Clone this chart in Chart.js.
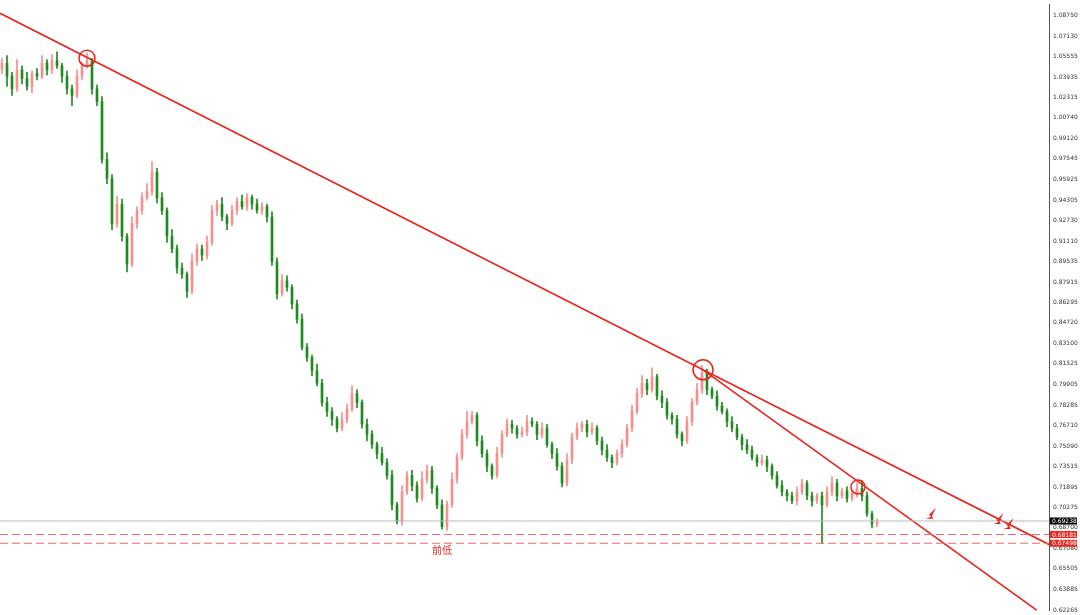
<!DOCTYPE html>
<html>
<head>
<meta charset="utf-8">
<script src="https://cdn.jsdelivr.net/npm/chart.js@4"></script>
<style>
  body { margin: 0; background: #fff; }
  #wrap { width: 1080px; height: 615px; }
</style>
</head>
<body>
<div id="wrap"><canvas id="myChart"></canvas></div>
<script>
// closing prices, one candle per bar (open = previous close)
const closes = [
  1.050, 1.040, 1.030, 1.045, 1.038, 1.032, 1.042, 1.040, 1.050, 1.045,
  1.052, 1.048, 1.040, 1.030, 1.025, 1.040, 1.048, 1.052, 1.030, 1.020,
  0.975, 0.960, 0.925, 0.940, 0.915, 0.893, 0.925, 0.935, 0.945, 0.950,
  0.965, 0.945, 0.935, 0.915, 0.905, 0.890, 0.885, 0.872, 0.895, 0.905,
  0.900, 0.910, 0.935, 0.940, 0.930, 0.925, 0.935, 0.942, 0.938, 0.945,
  0.940, 0.935, 0.938, 0.930, 0.895, 0.870, 0.880, 0.875, 0.862, 0.850,
  0.828, 0.820, 0.810, 0.800, 0.785, 0.778, 0.772, 0.765, 0.772, 0.780,
  0.792, 0.785, 0.768, 0.760, 0.752, 0.745, 0.738, 0.728, 0.705, 0.692,
  0.715, 0.728, 0.720, 0.710, 0.725, 0.732, 0.718, 0.705, 0.688, 0.705,
  0.725, 0.742, 0.760, 0.770, 0.775, 0.755, 0.745, 0.735, 0.728, 0.745,
  0.760, 0.768, 0.765, 0.760, 0.762, 0.770, 0.768, 0.760, 0.765, 0.752,
  0.745, 0.735, 0.722, 0.740, 0.758, 0.765, 0.768, 0.762, 0.765, 0.755,
  0.748, 0.742, 0.738, 0.745, 0.752, 0.765, 0.778, 0.792, 0.800, 0.795,
  0.805, 0.790, 0.785, 0.775, 0.772, 0.760, 0.755, 0.770, 0.785, 0.795,
  0.808, 0.795, 0.790, 0.782, 0.778, 0.770, 0.765, 0.758, 0.752, 0.748,
  0.742, 0.738, 0.740, 0.735, 0.728, 0.720, 0.715, 0.712, 0.708, 0.715,
  0.722, 0.712, 0.708, 0.712, 0.705, 0.715, 0.722, 0.712, 0.716, 0.710,
  0.714, 0.718, 0.712, 0.698, 0.690, 0.692
];
// wick lengths in thousandths
const wickHi = [
  4, 6, 3, 8, 3, 5, 2, 4, 6, 3, 5, 7, 2, 4, 3, 5, 3, 6, 2, 3,
  4, 5, 3, 6, 4, 2, 5, 3, 4, 6, 8, 3, 4, 2, 5, 3, 4, 2, 6, 4,
  3, 5, 4, 3, 5, 2, 4, 3, 5, 3, 2, 4, 3, 2, 4, 3, 5, 4, 2, 3,
  4, 3, 2, 5, 3, 4, 3, 2, 5, 4, 6, 3, 2, 4, 3, 2, 5, 3, 4, 2,
  5, 3, 4, 3, 6, 4, 3, 2, 4, 3, 5, 3, 4, 8, 3, 2, 4, 3, 2, 5,
  3, 4, 3, 2, 4, 5, 3, 2, 4, 3, 2, 4, 3, 5, 3, 4, 2, 3, 4, 2,
  3, 4, 2, 3, 4, 3, 5, 4, 6, 3, 7, 2, 4, 3, 2, 3, 2, 4, 3, 5,
  6, 3, 2, 4, 3, 2, 4, 3, 2, 4, 3, 2, 4, 3, 2, 3, 4, 2, 3, 4,
  3, 2, 3, 2, 3, 4, 5, 3, 2, 3, 2, 4, 6, 3, 2, 2
];
const wickLo = [
  3, 8, 5, 2, 4, 3, 5, 3, 2, 4, 3, 2, 5, 4, 8, 2, 3, 2, 4, 3,
  3, 4, 5, 3, 4, 6, 2, 4, 3, 2, 3, 4, 3, 5, 3, 4, 3, 5, 2, 3,
  4, 3, 2, 4, 3, 5, 2, 3, 2, 3, 4, 2, 3, 4, 3, 4, 2, 3, 4, 3,
  2, 3, 4, 2, 3, 4, 5, 3, 2, 3, 2, 4, 3, 5, 3, 4, 2, 3, 4, 2,
  3, 2, 4, 3, 2, 3, 4, 3, 2, 3, 2, 3, 2, 3, 2, 4, 3, 4, 3, 2,
  3, 2, 4, 3, 2, 3, 2, 4, 3, 2, 4, 3, 3, 2, 3, 2, 3, 4, 2, 3,
  4, 3, 4, 2, 3, 2, 3, 2, 3, 4, 2, 3, 4, 3, 4, 3, 4, 2, 3, 2,
  3, 4, 2, 3, 2, 4, 3, 2, 4, 3, 2, 3, 2, 4, 3, 2, 3, 4, 2, 3,
  2, 3, 4, 2, 30, 2, 3, 4, 2, 3, 2, 3, 4, 2, 3, 2
];
const priceTicks = [1.08750, 1.07130, 1.05555, 1.03935, 1.02315, 1.00740, 0.99120, 0.97545,
  0.95925, 0.94305, 0.92730, 0.91110, 0.89535, 0.87915, 0.86295, 0.84720, 0.83100, 0.81525,
  0.79905, 0.78285, 0.76710, 0.75090, 0.73515, 0.71895, 0.70275, 0.68700, 0.67080, 0.65505,
  0.63885, 0.62265];
const lastPrice = 0.69238;
const levels = [0.68181, 0.67498];
// trend lines as [index, price] pairs
const trendMain = [[-0.4, 1.0891], [140.2, 0.8105], [210, 0.6728]];
const trendSteep = [[140.2, 0.8105], [207, 0.6225]];
const circles = [[17, 1.0540, 8], [140.2, 0.8105, 10], [171.2, 0.7190, 7]];
const arrows = [[186, 0.6980], [199.5, 0.6940], [201.5, 0.6900]];
const noteLabel = { x: 88, y: 0.6695, text: '前低' };

const opens = closes.map((c, i) => i === 0 ? 1.045 : closes[i - 1]);
const UP = '#f5908f', DOWN = '#1f8a1f', RED = '#e8261e';
const colors = closes.map((c, i) => c >= opens[i] ? UP : DOWN);
const bodies = closes.map((c, i) => ({ x: i, y: [opens[i], c] }));
const wicks = closes.map((c, i) => ({
  x: i,
  y: [Math.min(c, opens[i]) - wickLo[i] / 1000, Math.max(c, opens[i]) + wickHi[i] / 1000]
}));
const xMin = -0.4, xMax = 209.4;
const seg = (pts) => pts.map(p => ({ x: p[0], y: p[1] }));

const overlay = {
  id: 'overlay',
  afterDatasetsDraw(chart) {
    const { ctx, scales: { x, y } } = chart;
    ctx.save();
    ctx.strokeStyle = RED; ctx.lineWidth = 1.5;
    circles.forEach(c => {
      ctx.beginPath(); ctx.arc(x.getPixelForValue(c[0]), y.getPixelForValue(c[1]), c[2], 0, Math.PI * 2); ctx.stroke();
    });
    ctx.fillStyle = RED;
    arrows.forEach(a => {
      const px = x.getPixelForValue(a[0]), py = y.getPixelForValue(a[1]);
      ctx.beginPath();
      ctx.moveTo(px - 6, py + 5); ctx.lineTo(px - 1, py + 3); ctx.lineTo(px - 3, py + 1);
      ctx.lineTo(px + 4, py - 6); ctx.lineTo(px, py + 2); ctx.lineTo(px + 1, py + 5);
      ctx.closePath(); ctx.fill();
    });
    ctx.font = '10px "Noto Sans CJK SC"'; ctx.textAlign = 'center'; ctx.textBaseline = 'middle';
    ctx.fillText(noteLabel.text, x.getPixelForValue(noteLabel.x), y.getPixelForValue(noteLabel.y));
    // axis price boxes
    const ax = y.left + 1;
    const box = (v, bg, fg) => {
      const py = y.getPixelForValue(v);
      ctx.fillStyle = bg; ctx.fillRect(ax, py - 3.5, 27, 7);
      ctx.fillStyle = fg; ctx.font = '6px "DejaVu Sans"'; ctx.textAlign = 'left';
      ctx.fillText(v.toFixed(5), ax + 2, py + 0.5);
    };
    box(lastPrice, '#000', '#fff');
    levels.forEach(v => box(v, RED, '#fff'));
    ctx.restore();
  }
};

new Chart(document.getElementById('myChart'), {
  data: {
    datasets: [
      { type: 'bar', data: wicks, backgroundColor: colors, barThickness: 1, grouped: false, order: 2 },
      { type: 'bar', data: bodies, backgroundColor: colors, barThickness: 2, grouped: false, order: 1 },
      { type: 'line', data: seg([[xMin, lastPrice], [xMax, lastPrice]]), borderColor: '#bbb', borderWidth: 1, pointRadius: 0 },
      ...levels.map(v => ({ type: 'line', data: seg([[xMin, v], [xMax, v]]), borderColor: '#ef6b6b', borderWidth: 1, borderDash: [8, 4], pointRadius: 0 })),
      { type: 'line', data: seg(trendMain), borderColor: RED, borderWidth: 1.6, pointRadius: 0 },
      { type: 'line', data: seg(trendSteep), borderColor: RED, borderWidth: 1.6, pointRadius: 0 }
    ]
  },
  options: {
    responsive: true, maintainAspectRatio: false, animation: false,
    layout: { padding: 0 },
    plugins: { legend: { display: false }, tooltip: { enabled: false } },
    scales: {
      x: { type: 'linear', min: xMin, max: xMax, display: false, offset: false },
      y: {
        position: 'right', min: 0.6225, max: 1.0959,
        grid: { display: false, drawTicks: true, tickLength: 3 },
        border: { color: '#555' },
        ticks: { font: { size: 6, family: 'DejaVu Sans' }, color: '#333', padding: 1, autoSkip: false,
          callback: v => v.toFixed(5) },
        afterBuildTicks: s => { s.ticks = priceTicks.map(v => ({ value: v })); },
        afterFit: s => { s.width = 31; }
      }
    }
  },
  plugins: [overlay]
});
</script>
</body>
</html>
